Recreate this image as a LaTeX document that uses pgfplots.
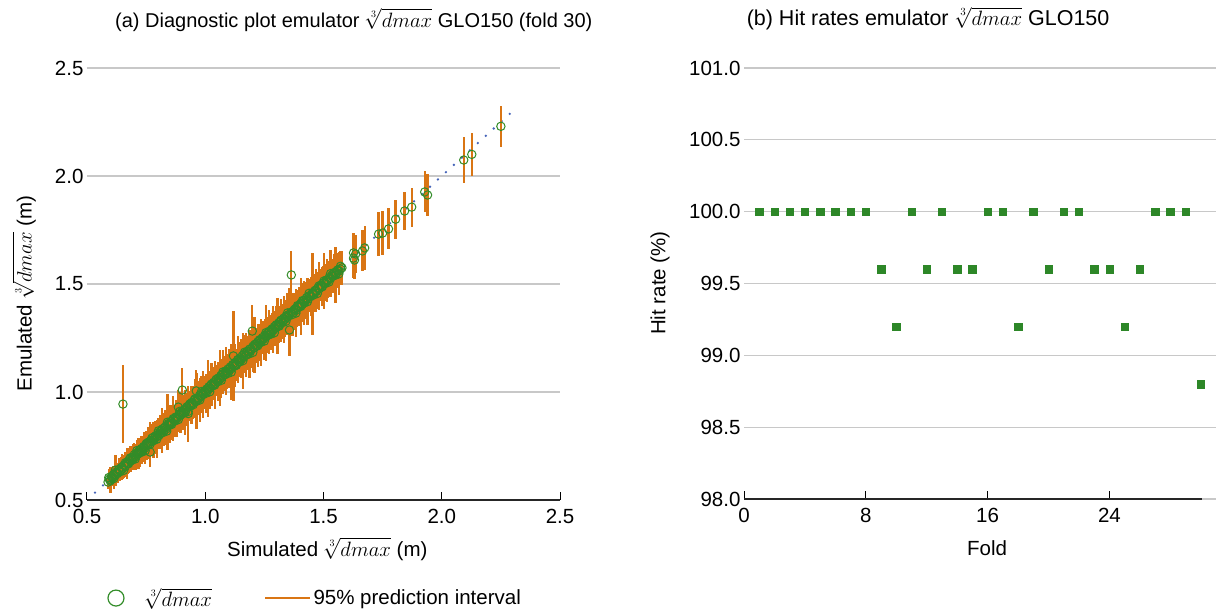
\documentclass[border=0pt]{standalone}
\usepackage{fontspec}
\setmainfont{Liberation Sans}
\usepackage{pgfplots}
\pgfplotsset{compat=1.18}
\usepackage{pgfplotstable}
\definecolor{barorange}{RGB}{217,117,20}
\definecolor{ptgreen}{RGB}{50,140,40}
\definecolor{hitgreen}{RGB}{45,135,40}
\definecolor{dotblue}{RGB}{70,100,185}
\definecolor{gridgray}{RGB}{200,200,200}

\pgfplotstableread{
x y e
0.589 0.583 0.030
0.594 0.597 0.035
0.598 0.588 0.035
0.603 0.609 0.040
0.607 0.601 0.035
0.612 0.618 0.040
0.618 0.611 0.045
0.623 0.629 0.040
0.629 0.622 0.045
0.634 0.640 0.040
0.640 0.635 0.045
0.645 0.651 0.050
0.650 0.644 0.045
0.652 0.944 0.180
0.657 0.662 0.045
0.662 0.655 0.050
0.668 0.675 0.045
0.673 0.669 0.050
0.679 0.688 0.055
0.684 0.680 0.050
0.690 0.696 0.055
0.695 0.690 0.050
0.700 0.710 0.055
0.705 0.700 0.060
0.710 0.717 0.055
0.715 0.712 0.060
0.720 0.728 0.055
0.725 0.720 0.065
0.730 0.738 0.060
0.735 0.731 0.055
0.740 0.748 0.065
0.745 0.740 0.060
0.750 0.760 0.060
0.755 0.752 0.065
0.760 0.768 0.070
0.767 0.722 0.065
0.770 0.775 0.060
0.775 0.771 0.065
0.780 0.790 0.070
0.785 0.780 0.065
0.790 0.797 0.070
0.795 0.792 0.075
0.800 0.810 0.070
0.805 0.800 0.065
0.810 0.818 0.075
0.815 0.812 0.070
0.820 0.830 0.075
0.825 0.820 0.070
0.830 0.838 0.080
0.835 0.829 0.075
0.840 0.860 0.130
0.845 0.850 0.075
0.850 0.846 0.080
0.855 0.864 0.075
0.860 0.858 0.080
0.865 0.872 0.085
0.870 0.866 0.075
0.875 0.884 0.080
0.880 0.876 0.085
0.886 0.930 0.080
0.890 0.898 0.085
0.895 0.892 0.080
0.900 0.908 0.085
0.903 1.009 0.100
0.908 0.903 0.080
0.913 0.920 0.085
0.918 0.914 0.070
0.923 0.932 0.065
0.928 0.900 0.130
0.933 0.940 0.065
0.938 0.935 0.070
0.943 0.952 0.065
0.948 0.946 0.070
0.953 0.962 0.065
0.958 0.955 0.070
0.962 1.005 0.095
0.966 0.972 0.065
0.971 0.967 0.070
0.976 0.984 0.065
0.981 0.978 0.075
0.986 0.994 0.070
0.991 0.988 0.065
0.996 1.004 0.070
1.001 0.998 0.075
1.006 1.014 0.070
1.011 1.008 0.065
1.016 1.025 0.070
1.021 1.018 0.075
1.026 1.035 0.070
1.031 1.028 0.065
1.036 1.045 0.070
1.041 1.038 0.075
1.046 1.056 0.070
1.051 1.048 0.065
1.056 1.065 0.075
1.061 1.058 0.070
1.066 1.076 0.075
1.071 1.068 0.070
1.076 1.085 0.065
1.081 1.079 0.075
1.086 1.096 0.070
1.091 1.088 0.075
1.096 1.106 0.070
1.101 1.098 0.065
1.106 1.116 0.075
1.111 1.108 0.070
1.116 1.126 0.075
1.119 1.167 0.210
1.122 1.119 0.070
1.127 1.137 0.075
1.132 1.129 0.070
1.137 1.148 0.075
1.142 1.140 0.070
1.147 1.158 0.075
1.152 1.150 0.080
1.157 1.168 0.075
1.162 1.160 0.070
1.167 1.178 0.080
1.172 1.170 0.075
1.177 1.188 0.070
1.182 1.180 0.080
1.187 1.198 0.075
1.192 1.190 0.080
1.199 1.282 0.120
1.202 1.212 0.075
1.207 1.204 0.080
1.212 1.222 0.075
1.217 1.214 0.080
1.222 1.232 0.075
1.227 1.225 0.080
1.232 1.242 0.075
1.237 1.235 0.080
1.242 1.252 0.075
1.247 1.245 0.080
1.252 1.262 0.075
1.257 1.255 0.080
1.262 1.272 0.075
1.267 1.265 0.080
1.272 1.282 0.075
1.277 1.275 0.080
1.282 1.292 0.075
1.287 1.285 0.080
1.292 1.302 0.075
1.297 1.295 0.080
1.302 1.312 0.075
1.307 1.304 0.080
1.312 1.322 0.075
1.317 1.315 0.080
1.322 1.332 0.075
1.327 1.325 0.080
1.332 1.342 0.075
1.337 1.336 0.080
1.342 1.352 0.075
1.347 1.346 0.080
1.352 1.358 0.075
1.356 1.287 0.120
1.364 1.542 0.110
1.368 1.372 0.075
1.374 1.368 0.080
1.380 1.385 0.075
1.386 1.380 0.080
1.392 1.396 0.075
1.398 1.395 0.080
1.404 1.410 0.075
1.410 1.405 0.080
1.416 1.422 0.075
1.422 1.418 0.080
1.428 1.436 0.075
1.434 1.430 0.080
1.440 1.446 0.075
1.446 1.442 0.080
1.453 1.455 0.190
1.458 1.456 0.080
1.464 1.470 0.075
1.470 1.466 0.080
1.476 1.482 0.075
1.482 1.478 0.080
1.488 1.494 0.075
1.494 1.490 0.080
1.500 1.506 0.075
1.506 1.502 0.080
1.512 1.518 0.075
1.518 1.514 0.080
1.524 1.530 0.075
1.530 1.526 0.080
1.536 1.542 0.075
1.542 1.538 0.080
1.548 1.554 0.075
1.554 1.550 0.080
1.560 1.565 0.075
1.566 1.560 0.080
1.572 1.569 0.075
1.578 1.575 0.080
1.627 1.620 0.090
1.631 1.611 0.090
1.636 1.639 0.090
1.627 1.644 0.090
1.665 1.653 0.095
1.674 1.667 0.100
1.733 1.731 0.100
1.750 1.736 0.100
1.775 1.755 0.095
1.805 1.800 0.090
1.843 1.838 0.090
1.873 1.856 0.090
1.928 1.926 0.095
1.940 1.912 0.095
2.093 2.074 0.105
2.127 2.100 0.100
2.250 2.230 0.095
}\diagdata

\pgfplotstableread{
x y e
0.592 0.604 0.039
0.599 0.593 0.061
0.606 0.608 0.033
0.613 0.599 0.050
0.620 0.638 0.072
0.627 0.625 0.044
0.634 0.641 0.055
0.641 0.631 0.039
0.648 0.652 0.061
0.655 0.637 0.033
0.662 0.672 0.050
0.669 0.669 0.072
0.676 0.668 0.044
0.683 0.695 0.055
0.690 0.684 0.039
0.697 0.699 0.061
0.704 0.690 0.033
0.711 0.729 0.050
0.718 0.716 0.072
0.725 0.732 0.044
0.732 0.722 0.055
0.739 0.743 0.039
0.746 0.728 0.061
0.753 0.763 0.048
0.760 0.760 0.072
0.767 0.759 0.104
0.774 0.786 0.064
0.781 0.775 0.080
0.788 0.790 0.056
0.795 0.781 0.088
0.802 0.820 0.048
0.809 0.807 0.072
0.816 0.823 0.104
0.823 0.813 0.064
0.830 0.834 0.080
0.837 0.819 0.056
0.844 0.854 0.088
0.851 0.851 0.048
0.858 0.850 0.072
0.865 0.877 0.104
0.872 0.866 0.064
0.879 0.881 0.080
0.886 0.872 0.056
0.893 0.911 0.088
0.900 0.898 0.048
0.907 0.914 0.072
0.914 0.904 0.104
0.921 0.925 0.064
0.928 0.910 0.080
0.935 0.945 0.056
0.942 0.942 0.088
0.949 0.941 0.048
0.956 0.968 0.090
0.963 0.957 0.130
0.970 0.972 0.080
0.977 0.963 0.100
0.984 1.002 0.070
0.991 0.989 0.110
0.998 1.005 0.060
1.005 0.995 0.090
1.012 1.016 0.130
1.019 1.001 0.080
1.026 1.036 0.100
1.033 1.033 0.070
1.040 1.032 0.110
1.047 1.059 0.060
1.054 1.048 0.090
1.061 1.063 0.130
1.068 1.054 0.080
1.075 1.093 0.100
1.082 1.080 0.070
1.089 1.096 0.110
1.096 1.086 0.060
1.103 1.107 0.090
1.110 1.092 0.130
1.117 1.127 0.080
1.124 1.124 0.100
1.131 1.123 0.070
1.138 1.150 0.110
1.145 1.139 0.060
1.152 1.154 0.090
1.159 1.145 0.130
1.166 1.184 0.080
1.173 1.171 0.100
1.180 1.187 0.070
1.187 1.177 0.110
1.194 1.198 0.060
1.201 1.183 0.090
1.208 1.218 0.130
1.215 1.215 0.080
1.222 1.214 0.100
1.229 1.241 0.070
1.236 1.230 0.110
1.243 1.245 0.060
1.250 1.236 0.090
1.257 1.275 0.130
1.264 1.262 0.080
1.271 1.278 0.100
1.278 1.268 0.070
1.285 1.289 0.110
1.292 1.274 0.060
1.299 1.309 0.090
1.306 1.306 0.130
1.313 1.305 0.080
1.320 1.332 0.100
1.327 1.321 0.070
1.334 1.336 0.110
1.341 1.327 0.060
1.348 1.366 0.090
1.355 1.353 0.130
1.362 1.369 0.080
1.369 1.359 0.100
1.376 1.380 0.070
1.383 1.365 0.110
1.390 1.400 0.060
1.397 1.397 0.090
1.404 1.396 0.130
1.411 1.423 0.080
1.418 1.412 0.100
1.425 1.427 0.070
1.432 1.418 0.110
1.439 1.457 0.060
1.446 1.444 0.090
1.453 1.460 0.130
1.460 1.450 0.080
1.467 1.471 0.100
1.474 1.456 0.070
1.481 1.491 0.110
1.488 1.488 0.060
1.495 1.487 0.090
1.502 1.514 0.130
1.509 1.503 0.080
1.516 1.518 0.100
1.523 1.509 0.070
1.530 1.548 0.110
1.537 1.535 0.060
1.544 1.551 0.090
1.551 1.541 0.130
1.558 1.562 0.080
1.565 1.547 0.100
1.572 1.582 0.070
}\diagdatab

\pgfplotstableread{
fold hit
1 100.0
2 100.0
3 100.0
4 100.0
5 100.0
6 100.0
7 100.0
8 100.0
9 99.6
10 99.2
11 100.0
12 99.6
13 100.0
14 99.6
15 99.6
16 100.0
17 100.0
18 99.2
19 100.0
20 99.6
21 100.0
22 100.0
23 99.6
24 99.6
25 99.2
26 99.6
27 100.0
28 100.0
29 100.0
30 98.8
}\hitdata

\pgfplotsset{
  circlegend/.style={legend image code/.code={
      \path[draw=none] (0pt,0pt) -- (41pt,0pt);
      \path[##1, draw=none] plot[mark=o] coordinates {(14pt,0pt)};}},
  linelegend/.style={legend image code/.code={
      \draw[##1] (0pt,0pt) -- (45pt,0pt);}},
  mystyle/.style={
    scale only axis,
    font=\fontsize{20.5}{24}\selectfont,
    ticklabel style={font=\fontsize{20.5}{24}\selectfont},
    /pgf/number format/assume math mode=true,
    axis x line*=bottom, axis y line*=left,
    y axis line style={draw=none},
    x axis line style={line width=1.6pt, black!85, -},
    ytick style={draw=none},
    xtick style={black, line width=1pt},
    tick align=inside, major tick length=8pt,
    xticklabel style={yshift=-6pt},
    ymajorgrids, grid style={gridgray, line width=1.3pt},
    yticklabel style={/pgf/number format/.cd, fixed, fixed zerofill, precision=1},
    clip=false,
  }
}

\begin{document}
\begin{tikzpicture}[font=\fontsize{20.5}{24}\selectfont]
\path[use as bounding box] (0pt,0pt) rectangle (1216pt,612pt);

\begin{axis}[mystyle,
  at={(87pt,112pt)}, anchor=south west, width=473pt, height=432pt,
  xmin=0.5, xmax=2.5, ymin=0.5, ymax=2.5,
  xtick={0.5,1.0,1.5,2.0,2.5}, ytick={0.5,1.0,1.5,2.0,2.5},
  xticklabel style={/pgf/number format/.cd, fixed, fixed zerofill, precision=1},
  title={(a) Diagnostic plot emulator $\sqrt[3]{dmax}$ GLO150 (fold 30)},
  title style={at={(0.564,1.081)}, anchor=base, inner sep=0pt, font=\fontsize{20}{24}\selectfont},
  xlabel={Simulated $\sqrt[3]{dmax}$ (m)},
  xlabel style={at={(0.508,-0.131)}, anchor=base, inner sep=0pt},
  ylabel={Emulated $\sqrt[3]{dmax}$ (m)},
  ylabel style={at={(-0.133,0.478)}, anchor=center, inner sep=0pt},
  legend style={at={(0.0317,-0.227)}, anchor=west, draw=none, fill=none,
    inner sep=0pt, outer sep=0pt,
    legend columns=2, font=\fontsize{20.5}{24}\selectfont,
    /tikz/every even column/.append style={column sep=50pt}},
]
\addplot[forget plot, dotblue, line width=2.6pt, line cap=round, dash pattern=on 0pt off 10.8pt]
  coordinates {(0.534,0.534) (2.32,2.32)};
\addplot[forget plot, draw=none, mark=none,
  error bars/.cd, y dir=both, y explicit, error mark=none,
  error bar style={barorange, line width=2.3pt}]
  table[x=x, y=y, y error=e] {\diagdata};
\addplot[forget plot, draw=none, mark=none,
  error bars/.cd, y dir=both, y explicit, error mark=none,
  error bar style={barorange, line width=2.3pt}]
  table[x=x, y=y, y error=e] {\diagdatab};
\addplot[forget plot, only marks, mark=o, mark size=4.2pt, mark options={ptgreen, line width=1pt}]
  table[x=x, y=y] {\diagdata};
\addplot[forget plot, only marks, mark=o, mark size=4.2pt, mark options={ptgreen, line width=1pt}]
  table[x=x, y=y] {\diagdatab};
\addlegendimage{mark=o, mark size=8pt, mark options={ptgreen, draw=ptgreen, line width=1.2pt}, circlegend}
\addlegendentry{$\sqrt[3]{dmax}$}
\addlegendimage{barorange, line width=2.5pt, linelegend}
\addlegendentry{95\% prediction interval}
\end{axis}

\begin{axis}[mystyle,
  at={(744pt,113pt)}, anchor=south west, width=472pt, height=431pt,
  xmin=0, xmax=31, ymin=98, ymax=101,
  xtick={0,8,16,24}, ytick={98,98.5,99,99.5,100,100.5,101},
  x axis line style={draw=none},
  title={(b) Hit rates emulator $\sqrt[3]{dmax}$ GLO150},
  title style={at={(0.390,1.084)}, anchor=base, inner sep=0pt, font=\fontsize{21.5}{25}\selectfont},
  xlabel={Fold},
  xlabel style={at={(0.515,-0.132)}, anchor=base, inner sep=0pt},
  ylabel={Hit rate (\%)},
  ylabel style={at={(-0.178,0.501)}, anchor=center, inner sep=0pt},
]
\draw[black!85, line width=1.6pt] (axis cs:0,98) -- (axis cs:30.1,98);
\addplot[only marks, mark=square*, mark size=3.7pt, mark options={hitgreen, fill=hitgreen}]
  table[x=fold, y=hit] {\hitdata};
\end{axis}
\end{tikzpicture}
\end{document}
